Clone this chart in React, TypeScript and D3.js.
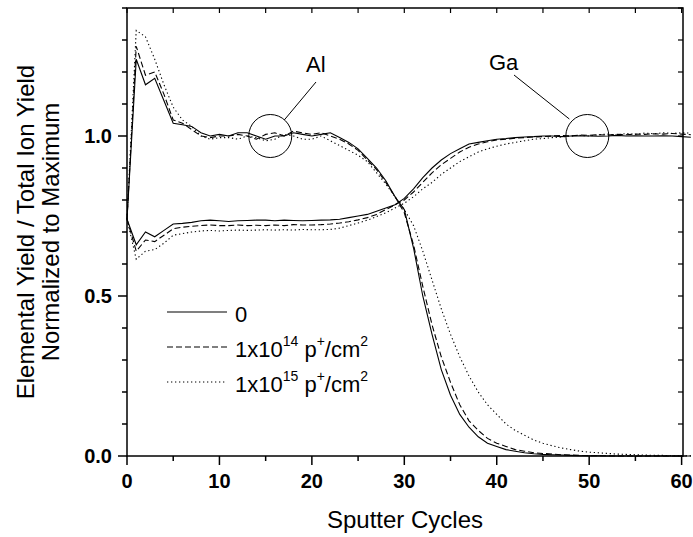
import React from "react";
import * as d3 from "d3";

const cycles: number[] = d3.range(0, 62);

const alSolid = [0.74,1.24,1.16,1.18,1.11,1.04,1.035,1.03,1.01,1.0,1.005,1.0,1.01,1.01,1.0,0.99,1.0,1.0,1.01,1.005,1.0,1.005,1.01,0.995,0.98,0.96,0.93,0.9,0.86,0.81,0.77,0.65,0.5,0.38,0.27,0.19,0.13,0.09,0.06,0.04,0.03,0.02,0.015,0.01,0.007,0.005,0.004,0.003,0.002,0.001,0.001,0.001,0.0,0.0,0.0,0.0,0.0,0.0,0.0,0.0,0.0,0.0];
const alDash = [0.74,1.28,1.19,1.2,1.13,1.05,1.04,1.02,1.0,0.995,1.0,1.0,1.005,1.0,0.99,1.005,1.01,1.0,1.015,1.01,1.005,1.01,1.0,0.99,0.975,0.955,0.925,0.895,0.855,0.81,0.76,0.66,0.53,0.41,0.31,0.23,0.16,0.11,0.08,0.055,0.04,0.03,0.02,0.015,0.01,0.008,0.006,0.004,0.003,0.002,0.001,0.001,0.001,0.0,0.0,0.0,0.0,0.0,0.0,0.0,0.0,0.0];
const alDot = [0.74,1.33,1.31,1.24,1.16,1.09,1.05,1.03,1.0,0.99,0.995,0.995,0.99,1.0,0.995,0.985,0.99,1.005,1.0,0.99,0.99,1.0,0.985,0.97,0.955,0.94,0.92,0.885,0.85,0.81,0.77,0.72,0.64,0.55,0.46,0.38,0.31,0.25,0.2,0.16,0.13,0.1,0.08,0.065,0.05,0.04,0.032,0.025,0.02,0.015,0.012,0.01,0.008,0.006,0.005,0.004,0.003,0.002,0.002,0.001,0.001,0.001];

const gaSolid = [0.74,0.66,0.7,0.685,0.705,0.725,0.727,0.73,0.735,0.737,0.735,0.733,0.735,0.736,0.737,0.737,0.735,0.737,0.736,0.735,0.736,0.737,0.738,0.74,0.745,0.75,0.755,0.765,0.775,0.785,0.805,0.835,0.87,0.9,0.925,0.945,0.96,0.975,0.98,0.985,0.99,0.992,0.995,0.997,0.998,1.0,1.0,0.998,1.0,1.001,1.0,0.999,1.0,1.002,1.0,1.001,1.0,1.0,1.001,1.0,0.998,0.996];
const gaDash = [0.74,0.64,0.675,0.67,0.69,0.71,0.715,0.718,0.72,0.722,0.72,0.72,0.722,0.72,0.721,0.72,0.722,0.72,0.723,0.722,0.722,0.723,0.725,0.728,0.732,0.738,0.745,0.755,0.77,0.785,0.8,0.825,0.855,0.885,0.91,0.93,0.95,0.965,0.975,0.982,0.988,0.99,0.993,0.995,0.997,0.998,1.0,1.002,1.0,1.003,1.002,1.004,1.003,1.005,1.004,1.006,1.005,1.007,1.006,1.008,1.006,1.004];
const gaDot = [0.74,0.615,0.64,0.645,0.665,0.69,0.695,0.7,0.703,0.705,0.703,0.705,0.706,0.705,0.706,0.707,0.706,0.707,0.706,0.708,0.707,0.707,0.708,0.712,0.72,0.728,0.737,0.748,0.76,0.775,0.79,0.81,0.835,0.855,0.88,0.9,0.92,0.935,0.95,0.96,0.968,0.975,0.98,0.985,0.99,0.992,0.995,0.997,1.0,1.002,1.0,1.004,1.006,1.003,1.008,1.005,1.009,1.007,1.01,1.008,1.01,1.009];

const xTicks = [0, 10, 20, 30, 40, 50, 60];
const xMinor = d3.range(0, 61, 5);
const yTicks = [0, 0.5, 1.0];
const yMinor = d3.range(0, 1.41, 0.1);

const legendLabels = ["0", "1x10|14", "1x10|15"];
const dashStyles = ["none", "6,3", "1.3,2.7"];

const W = 693;
const H = 537;

export default function App() {
  const x = d3.scaleLinear().domain([0, 60.15]).range([127, 683]);
  const y = d3.scaleLinear().domain([0, 1.4]).range([456, 8]);
  const line = d3
    .line<number>()
    .x((_, i) => x(cycles[i]))
    .y((d) => y(d));

  const series = [
    { data: alSolid, dash: dashStyles[0] },
    { data: alDash, dash: dashStyles[1] },
    { data: alDot, dash: dashStyles[2] },
    { data: gaSolid, dash: dashStyles[0] },
    { data: gaDash, dash: dashStyles[1] },
    { data: gaDot, dash: dashStyles[2] },
  ];

  const x0 = x(0), x1 = x(60.15), y0 = y(0), y1 = y(1.4);
  const font = "'Liberation Sans', Arial, sans-serif";

  const alC = { cx: x(15.5), cy: y(1.0), r: 21.5 };
  const gaC = { cx: x(49.8), cy: y(1.0), r: 21.5 };

  return (
    <svg width={W} height={H} style={{ position: "absolute", left: 0, top: 0, background: "#fff" }} fontFamily={font}>
      {series.map((s, i) => (
        <path key={i} d={line(s.data) || ""} fill="none" stroke="#000" strokeWidth={1.1} strokeDasharray={s.dash} />
      ))}
      <rect x={x0} y={y1} width={x1 - x0} height={y0 - y1} fill="none" stroke="#000" strokeWidth={1.5} />
      {xMinor.map((t) => (
        <line key={"bx" + t} x1={x(t)} x2={x(t)} y1={y0} y2={y0 + (t % 10 === 0 ? 9 : 5)} stroke="#000" strokeWidth={1.5} />
      ))}
      {xMinor.map((t) => (
        <line key={"tx" + t} x1={x(t)} x2={x(t)} y1={y1} y2={y1 + 5} stroke="#000" strokeWidth={1.2} />
      ))}
      {xTicks.map((t) => (
        <text key={"xl" + t} x={x(t)} y={488} textAnchor="middle" fontWeight="bold" fontSize={20}>
          {t}
        </text>
      ))}
      {yMinor.map((t, i) => (
        <line key={"ly" + i} x1={x0} x2={x0 - (i % 5 === 0 ? 9 : 5)} y1={y(t)} y2={y(t)} stroke="#000" strokeWidth={1.5} />
      ))}
      {yMinor.map((t, i) => (
        <line key={"ry" + i} x1={x1} x2={x1 - 5} y1={y(t)} y2={y(t)} stroke="#000" strokeWidth={1.2} />
      ))}
      {yTicks.map((t) => (
        <text key={"yl" + t} x={112} y={y(t) + 7} textAnchor="end" fontWeight="bold" fontSize={20}>
          {t.toFixed(1)}
        </text>
      ))}
      <text x={(x0 + x1) / 2} y={528} textAnchor="middle" fontSize={24}>
        Sputter Cycles
      </text>
      <g transform={`translate(34,${(y0 + y1) / 2}) rotate(-90)`}>
        <text x={0} y={0} textAnchor="middle" fontSize={24}>
          Elemental Yield / Total Ion Yield
        </text>
        <text x={0} y={25} textAnchor="middle" fontSize={24}>
          Normalized to Maximum
        </text>
      </g>
      {legendLabels.map((lab, i) => {
        const ly = 312 + i * 35;
        const parts = lab.split("|");
        return (
          <g key={"lg" + i}>
            <line x1={167} x2={227} y1={ly} y2={ly} stroke="#000" strokeWidth={1.1} strokeDasharray={dashStyles[i]} />
            <text x={235} y={ly + 10} fontSize={22}>
              {parts[0]}
              {parts.length > 1 && (
                <>
                  <tspan fontSize={14} dy={-11}>{parts[1]}</tspan>
                  <tspan fontSize={22} dy={11}> p</tspan>
                  <tspan fontSize={14} dy={-11}>+</tspan>
                  <tspan fontSize={22} dy={11}>/cm</tspan>
                  <tspan fontSize={14} dy={-11}>2</tspan>
                </>
              )}
            </text>
          </g>
        );
      })}
      <circle cx={alC.cx} cy={alC.cy} r={alC.r} fill="none" stroke="#000" strokeWidth={1} />
      <line x1={alC.cx + 14} x2={316} y1={alC.cy - 16} y2={82} stroke="#000" strokeWidth={1} />
      <text x={306} y={72} fontSize={22}>Al</text>
      <circle cx={gaC.cx} cy={gaC.cy} r={gaC.r} fill="none" stroke="#000" strokeWidth={1} />
      <line x1={gaC.cx - 18} x2={514} y1={gaC.cy - 17} y2={75} stroke="#000" strokeWidth={1} />
      <text x={489} y={70} fontSize={22}>Ga</text>
    </svg>
  );
}
